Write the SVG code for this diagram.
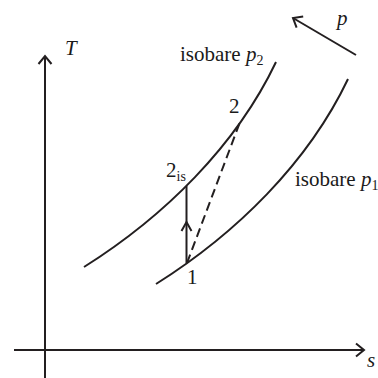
<svg xmlns="http://www.w3.org/2000/svg" width="378" height="378" viewBox="0 0 378 378">
<style>
.ln{fill:none;stroke:#231f20;stroke-width:2;}
.dash{fill:none;stroke:#231f20;stroke-width:2;stroke-dasharray:9 5;}
.tx{font-family:"Liberation Serif","Times New Roman",serif;font-size:21px;fill:#1a1a1a;}
.it{font-style:italic;}
.sub{font-size:14px;}
</style>
<defs>
<marker id="arr" markerUnits="userSpaceOnUse" markerWidth="20" markerHeight="20" refX="0" refY="0" viewBox="-10 -10 20 20" orient="auto">
<path d="M-8,-6.5 L0,0 L-8,6.5" fill="none" stroke="#231f20" stroke-width="2"/>
</marker>
</defs>
<g id="axes">
<line class="ln" x1="45" y1="378" x2="45" y2="56" marker-end="url(#arr)"/>
<line class="ln" x1="14" y1="350" x2="364" y2="350" marker-end="url(#arr)"/>
<text class="tx it" x="65" y="55">T</text>
<text class="tx it" x="367" y="367">s</text>
</g>
<g id="isobar-p2">
<path class="ln" d="M84,267 C164,216.6 236,146 276,62"/>
<text class="tx" x="180" y="61">isobare <tspan class="it">p</tspan><tspan class="sub" dy="4">2</tspan></text>
</g>
<g id="isobar-p1">
<path class="ln" d="M156,284 C236,233.6 308,163 348,79"/>
<text class="tx" x="295" y="186">isobare <tspan class="it">p</tspan><tspan class="sub" dy="4">1</tspan></text>
</g>
<g id="pressure-arrow">
<line class="ln" x1="356" y1="55" x2="293" y2="18" marker-end="url(#arr)"/>
<text class="tx it" x="337" y="25">p</text>
</g>
<g id="connectors">
<line class="ln" x1="186.5" y1="263" x2="186.5" y2="186"/>
<polyline class="ln" points="181.5,231 186.5,222 191.5,231"/>
<line class="dash" x1="187" y1="263" x2="240" y2="122"/>
</g>
<g id="point-1">
<text class="tx" x="187" y="284">1</text>
</g>
<g id="point-2">
<text class="tx" x="229" y="113">2</text>
</g>
<g id="point-2is">
<text class="tx" x="166" y="177">2<tspan class="sub" dy="4">is</tspan></text>
</g>
</svg>
